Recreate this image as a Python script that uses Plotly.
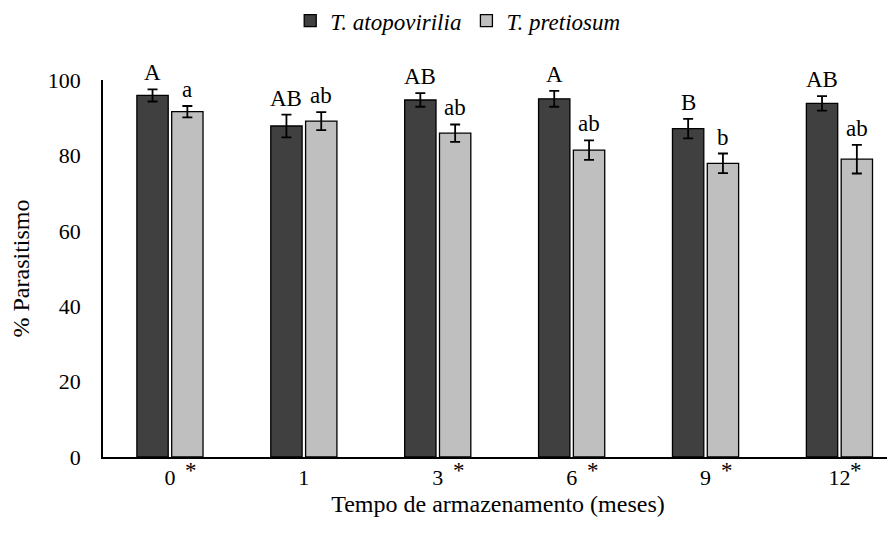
import plotly.graph_objects as go

categories = ["0", "1", "3", "6", "9", "12"]
atopovirilia = [95.9, 87.8, 94.7, 95.0, 87.1, 93.8]
atopovirilia_err = [1.6, 3.0, 1.8, 2.1, 2.6, 1.9]
pretiosum = [91.6, 89.1, 85.9, 81.4, 77.9, 79.0]
pretiosum_err = [1.5, 2.4, 2.3, 2.6, 2.6, 3.8]
letters_atop = ["A", "AB", "AB", "A", "B", "AB"]
letters_pret = ["a", "ab", "ab", "ab", "b", "ab"]
asterisk = [True, False, True, True, True, True]

FONT = "Liberation Serif, Times New Roman, serif"
xs = list(range(len(categories)))
off = 0.13

fig = go.Figure()
fig.add_trace(go.Bar(
    x=xs, y=atopovirilia, name="<i>T. atopovirilia</i>",
    marker=dict(color="#404040", line=dict(color="black", width=1.3)),
    error_y=dict(type="data", array=atopovirilia_err, color="black", thickness=1.8, width=5),
))
fig.add_trace(go.Bar(
    x=xs, y=pretiosum, name="<i>T. pretiosum</i>",
    marker=dict(color="#bfbfbf", line=dict(color="black", width=1.3)),
    error_y=dict(type="data", array=pretiosum_err, color="black", thickness=1.8, width=5),
))

ann = []
for i in xs:
    ann.append(dict(x=i - off, y=atopovirilia[i] + atopovirilia_err[i], text=letters_atop[i],
                    xref="x", yref="y", showarrow=False, yanchor="bottom", yshift=2,
                    font=dict(family=FONT, size=23, color="black")))
    ann.append(dict(x=i + off, y=pretiosum[i] + pretiosum_err[i], text=letters_pret[i],
                    xref="x", yref="y", showarrow=False, yanchor="bottom", yshift=2,
                    font=dict(family=FONT, size=23, color="black")))
    if asterisk[i]:
        ann.append(dict(x=i, y=0, text="*", xref="x", yref="y", showarrow=False,
                        xanchor="center", yanchor="top",
                        xshift=21 if len(categories[i]) == 1 else 17, yshift=1,
                        font=dict(family=FONT, size=23, color="black")))

fig.update_layout(
    width=887, height=527,
    margin=dict(l=95, r=2, t=72, b=78, autoexpand=False),
    paper_bgcolor="white", plot_bgcolor="white",
    barmode="group", bargap=0.48, bargroupgap=0.1,
    font=dict(family=FONT, size=23, color="black"),
    showlegend=True,
    legend=dict(orientation="h", x=0.449, xanchor="center", y=0.976, yref="container", yanchor="middle",
                font=dict(family=FONT, size=23), traceorder="normal"),
    annotations=ann,
    xaxis=dict(
        tickmode="array", tickvals=xs, ticktext=categories, range=[-0.5, 5.4],
        showline=True, linecolor="black", linewidth=2, ticks="", showgrid=False, automargin=False,
        title=dict(text="Tempo de armazenamento (meses)", font=dict(family=FONT, size=24), standoff=6),
        tickfont=dict(family=FONT, size=22),
    ),
    yaxis=dict(
        range=[0, 100], tickvals=[0, 20, 40, 60, 80, 100],
        showline=True, linecolor="black", linewidth=1.5, ticks="", showgrid=False, zeroline=False,
        automargin=False, ticklabelstandoff=16,
        title=dict(text="% Parasitismo", font=dict(family=FONT, size=24), standoff=12),
        tickfont=dict(family=FONT, size=22),
    ),
)

fig.write_html("out.html")
